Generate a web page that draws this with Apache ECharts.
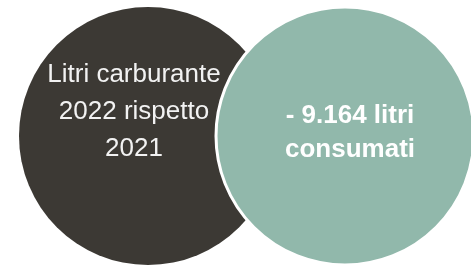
<!DOCTYPE html>
<html>
    <head>
        <meta charset="utf-8">
        <title>Litri carburante</title>
        <script src="https://cdn.jsdelivr.net/npm/echarts@6/dist/echarts.min.js"></script>
        <style>
            html, body { margin: 0; padding: 0; background: #fff; }
        </style>
    </head>
    <body>
        <div id="chart1" style="width:471px;height:268px;"></div>
        <script type="text/javascript">
            // dati del grafico
            var labels = ['Litri carburante\n2022 rispetto\n2021', '- 9.164 litri\nconsumati'];
            var centriX = [148, 345];
            var centriY = [136, 136];
            var diametri = [258, 258];

            var myChart1 = echarts.init(document.getElementById('chart1'));

            var option = {
                animation: false,
                grid: { left: 0, right: 0, top: 0, bottom: 0 },
                xAxis: { type: 'value', min: 0, max: 471, show: false },
                yAxis: { type: 'value', min: 0, max: 268, inverse: true, show: false },
                series: [
                    {
                        type: 'scatter',
                        z: 1,
                        symbol: 'circle',
                        symbolSize: diametri[0],
                        data: [[centriX[0], centriY[0]]],
                        itemStyle: { color: '#3c3934', opacity: 1 },
                        label: {
                            show: true,
                            position: 'inside',
                            offset: [-14, -24],
                            formatter: labels[0],
                            color: '#f2f2f2',
                            fontFamily: 'Liberation Sans',
                            fontSize: 26,
                            lineHeight: 37,
                            align: 'center'
                        }
                    },
                    {
                        type: 'scatter',
                        z: 2,
                        symbol: 'circle',
                        symbolSize: diametri[1],
                        data: [[centriX[1], centriY[1]]],
                        itemStyle: { color: '#91b8ab', borderColor: '#ffffff', borderWidth: 3, opacity: 1 },
                        label: {
                            show: true,
                            position: 'inside',
                            offset: [5, -3],
                            formatter: labels[1],
                            color: '#ffffff',
                            fontFamily: 'Liberation Sans',
                            fontWeight: 'bold',
                            fontSize: 26,
                            lineHeight: 34,
                            align: 'center'
                        }
                    }
                ]
            };
            myChart1.setOption(option);
        </script>
    </body>
</html>
